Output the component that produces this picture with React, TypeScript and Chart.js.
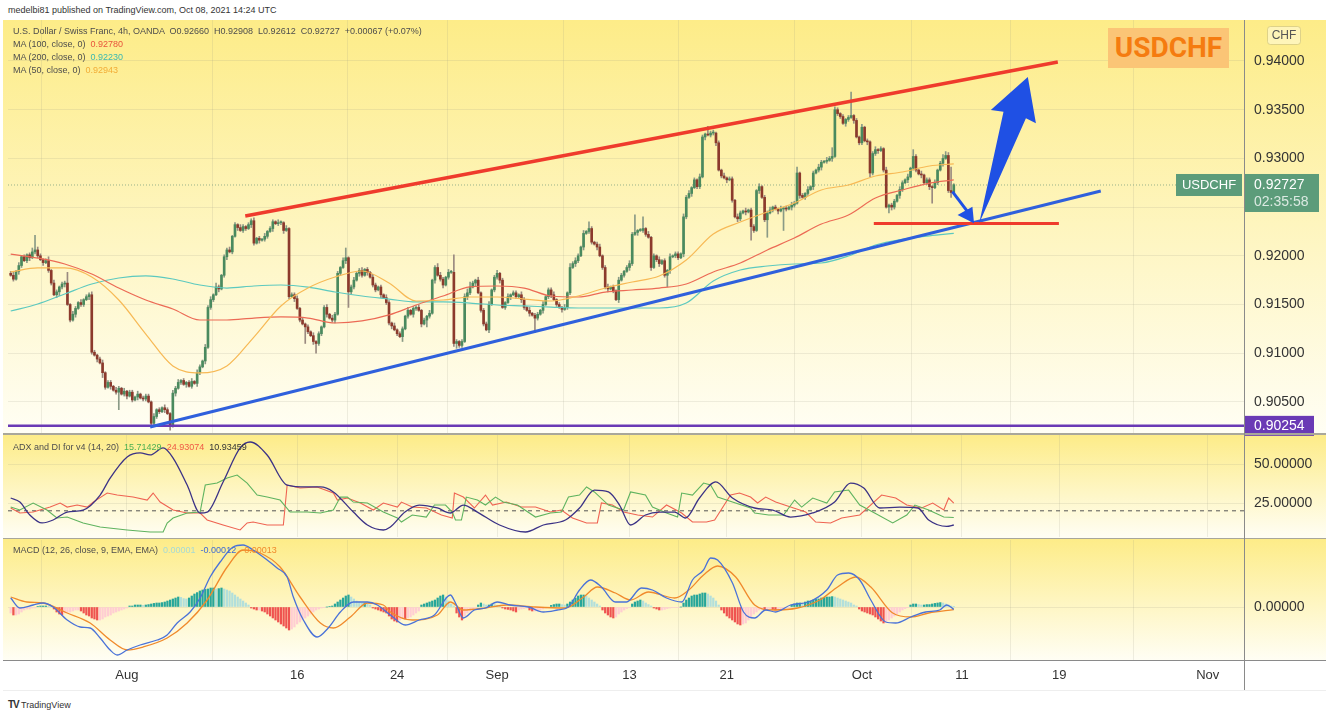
import React, { useEffect, useRef } from 'react';
import { Chart, registerables } from 'chart.js';
Chart.register(...registerables);

// ---------------- DATA ----------------
// x axis: 4h bar index; tick labels placed at bar indices
const X_MIN = -1;
const X_MAX = 456.4;
const TICK_POS = [43, 106, 143, 180, 229, 265, 315, 352, 388, 443];
const TICK_LABELS = ['Aug', '16', '24', 'Sep', '13', '21', 'Oct', '11', '19', 'Nov'];

// price axis
const PRICE_MIN = 0.901807;
const PRICE_MAX = 0.944209;
const PRICE_TICKS = [0.905, 0.91, 0.915, 0.92, 0.925, 0.93, 0.935, 0.94];

// candles: open of first bar, closes (pips above 0.9000), wick lengths (pips, base-36 chars)
const FIRST_OPEN = 0.9182;
const CLOSE_PIPS = [
  180, 176, 184, 190, 199, 195, 201, 198, 204, 206,
  200, 196, 193, 195, 185, 172, 160, 163, 168, 171,
  172, 150, 134, 140, 146, 152, 150, 155, 158, 160,
  101, 98, 94, 90, 80, 65, 70, 66, 62, 60,
  64, 58, 61, 56, 60, 52, 55, 58, 54, 53,
  56, 50, 28, 35, 42, 40, 44, 42, 38, 26,
  59, 64, 70, 72, 68, 70, 66, 71, 69, 80,
  86, 92, 106, 147, 155, 160, 168, 166, 180, 199,
  206, 204, 220, 232, 229, 226, 230, 228, 232, 236,
  213, 218, 216, 217, 220, 225, 228, 235, 233, 234,
  234, 226, 228, 158, 160, 156, 146, 134, 130, 127,
  122, 118, 112, 110, 120, 127, 147, 140, 136, 134,
  140, 182, 188, 195, 198, 163, 168, 175, 182, 185,
  180, 186, 183, 178, 170, 165, 168, 160, 157, 152,
  131, 128, 124, 120, 117, 125, 138, 144, 140, 146,
  147, 144, 130, 134, 138, 141, 175, 188, 180, 176,
  170, 178, 183, 183, 110, 112, 108, 112, 158, 162,
  168, 172, 175, 162, 144, 130, 124, 150, 165, 178,
  182, 175, 147, 152, 158, 160, 162, 158, 160, 155,
  147, 144, 141, 139, 136, 140, 144, 150, 158, 165,
  160, 155, 150, 147, 145, 147, 162, 188, 192, 195,
  200, 209, 223, 225, 228, 214, 212, 209, 200, 188,
  168, 166, 168, 164, 155, 175, 180, 184, 188, 192,
  222, 224, 226, 226, 228, 222, 219, 188, 200, 196,
  192, 195, 180, 185, 199, 200, 202, 198, 202, 240,
  260, 264, 270, 278, 271, 281, 322, 325, 324, 326,
  326, 316, 288, 282, 280, 278, 279, 257, 240, 238,
  244, 246, 245, 247, 230, 226, 267, 271, 260, 237,
  244, 247, 250, 248, 246, 248, 249, 248, 250, 252,
  254, 285, 262, 260, 264, 268, 271, 285, 288, 291,
  296, 297, 298, 300, 302, 350, 346, 343, 336, 340,
  342, 344, 339, 322, 316, 332, 318, 317, 285, 305,
  309, 308, 310, 288, 250, 252, 250, 256, 262, 268,
  275, 278, 281, 290, 302, 288, 284, 283, 275, 278,
  271, 270, 275, 288, 295, 300, 303, 267, 265, 273,
];
const UPPER_WICKS = [
  '231312124f', '3212413212', '2b13213122', '3212312213', '2131221312',
  '2213121321', '3231212313', '2132314212', '2312132122', '3121312213',
  '2131223121', '2131212313', '2213a12312', '3121321213', '2131221312',
  '2312131243', '2132i21234', '5213122312', '3121312213', '2131221312',
  '2312131423', '2131721231', '2312132123', '2i12c13121', '3121312213',
  '2312132182', '3121312213', '2131221312', '2312131213', '2612131213',
  '2132932121', '2o12131212', '3121312213', '2131721312', '21312443o1',
];
const LOWER_WICKS = [
  '1213212312', '2131221342', '3121312213', '2131521312', 'i123121312',
  '2131221315', '2312131213', '2131221312', '3121312213', '2131221312',
  '231213121h', '213a221312', '31213g2213', '2131221312', '2312151213',
  '2131721312', '3121352213', '2131221312', '2312131213', '2131f21312',
  '3121312213', '2131221312', '2312131213', '2131221312', '312c312213',
  '2131221312', '2312131213', '2131e21312', 'i12131m213', '2131221312',
  '3121312213', '2131221342', '2312163213', '2131221312', '3g12131252',
];
const LAST_CLOSE = 0.92727;
const SWING_LOW = 0.90254;

// moving averages sampled at bar indices (pips)
const MA_IDX = [0, 10, 20, 30, 40, 50, 60, 70, 80, 90, 100, 110, 120, 130, 140, 150, 160, 170, 180, 190, 200, 210, 220, 230, 240, 250, 260, 270, 280, 290, 300, 310, 320, 330, 340, 349];
const MA50 = [9183.4, 9187.5, 9187.5, 9178.2, 9154.6, 9119.7, 9086.9, 9079.7, 9086.9, 9116.6, 9148.5, 9166.9, 9178.2, 9184.4, 9172.1, 9153.6, 9154.6, 9157.7, 9157.7, 9155.6, 9153.6, 9158.7, 9166.9, 9173.1, 9179.3, 9195.7, 9222.4, 9234.7, 9245.0, 9254.2, 9267.6, 9272.7, 9281.9, 9286.0, 9292.2, 9294.3];
const MA100 = [9201.8, 9197.7, 9191.6, 9181.3, 9166.9, 9154.6, 9145.4, 9134.1, 9134.1, 9136.1, 9137.2, 9136.1, 9131.0, 9133.1, 9139.3, 9149.5, 9158.7, 9168.0, 9169.0, 9166.9, 9158.7, 9157.7, 9162.8, 9164.9, 9166.9, 9171.0, 9183.4, 9192.6, 9206.0, 9218.3, 9232.6, 9241.9, 9259.3, 9267.6, 9274.7, 9278.0];
const MA200 = [9143.3, 9150.5, 9160.8, 9171.0, 9177.2, 9179.3, 9176.2, 9170.0, 9166.9, 9169.0, 9170.0, 9167.9, 9162.8, 9158.7, 9155.6, 9152.6, 9152.6, 9151.5, 9149.5, 9148.5, 9147.4, 9146.4, 9146.4, 9146.4, 9146.4, 9151.5, 9174.1, 9185.4, 9189.5, 9191.6, 9192.6, 9199.8, 9211.1, 9217.0, 9220.5, 9223.0];

// drawings [barIndex, price]
const UPPER_TREND = [[86.8, 0.92409], [387.5, 0.9399]];
const LOWER_TREND = [[51.6, 0.90242], [403.4, 0.92665]];
const SUPPORT_LINE = [[319.4, 0.92332], [387.9, 0.92332]];
const BIG_ARROW = [[358.4, 0.92334], [367.4, 0.93479], [362.7, 0.93497], [376.4, 0.93836], [379.4, 0.9336], [375.7, 0.93412]];
const SMALL_ARROW_SHAFT = [[348.5, 0.92658], [354.1, 0.92453]];
const SMALL_ARROW_HEAD = [[350.4, 0.92419], [355.9, 0.92504], [356.5, 0.92334]];

// ADX / DI  [barIndex, value]
const ADX_PTS = [[0, 28.2], [3.4, 25.6], [7.1, 17.3], [11.6, 12.2], [15.7, 14.1], [20.9, 19.2], [26.8, 20.5], [33.1, 30.1], [36.8, 41.0], [43.1, 54.5], [47.9, 57.1], [51.6, 55.8], [56.4, 60.3], [60.1, 53.8], [65.3, 36.5], [70.1, 18.6], [72.7, 19.2], [78.6, 38.5], [84.9, 60.3], [88.6, 64.1], [94.9, 55.8], [102.3, 36.5], [109.7, 35.3], [114.6, 35.3], [119.4, 32.1], [126.8, 19.2], [132, 10.9], [137.9, 7.7], [140.5, 9.6], [145.9, 19.2], [151.2, 23.7], [157.9, 21.8], [162.7, 18.6], [167.5, 23.7], [172.7, 19.2], [180.9, 10.9], [190.5, 6.4], [197.1, 10.9], [205.3, 14.1], [210.5, 21.8], [216, 33.3], [221.2, 32.1], [225.3, 23.7], [229.4, 10.9], [234.9, 17.3], [240.1, 19.2], [245.7, 19.2], [249.7, 15.4], [254.9, 28.2], [260.9, 38.5], [267.1, 28.2], [275.3, 21.8], [282, 20.5], [288.6, 16.0], [296.8, 18.6], [304.9, 25.6], [310.8, 37.8], [315.7, 34.6], [321.6, 21.8], [329, 22.4], [335.7, 21.8], [339.7, 14.1], [346.4, 10.0], [349, 10.9]];
const PDI_PTS = [[0, 22.4], [3.4, 20.5], [8.3, 25], [13.4, 20.5], [17.1, 15.4], [20.9, 16.0], [26.8, 12.2], [33.1, 9.6], [43.1, 7.7], [51.6, 6.4], [56.4, 6.4], [57.9, 12.2], [60.1, 15.4], [65.3, 18.6], [70.1, 19.2], [72, 36.5], [76.4, 37.8], [80.1, 41.0], [83.8, 42.9], [87.5, 37.8], [91.2, 30.1], [94.9, 28.8], [99.7, 26.9], [103.4, 19.2], [109.7, 19.2], [114.6, 18.6], [119.4, 20.5], [122, 28.8], [124.6, 28.8], [126.8, 25.6], [132, 25.0], [137.9, 19.2], [143.1, 15.4], [144.6, 12.8], [148.6, 17.3], [153.8, 16.0], [156.8, 23.7], [160.9, 23.7], [163.4, 19.2], [164.6, 14.1], [166.8, 14.1], [168.6, 28.8], [172.7, 26.9], [175.7, 23.7], [179.4, 28.8], [182.3, 25.6], [187.5, 23.7], [194.2, 16.0], [199.7, 18.6], [203.8, 19.2], [206.4, 28.8], [210.5, 30.1], [213.1, 35.3], [216, 32.1], [221.2, 23.7], [226.8, 20.5], [229.4, 32.1], [234.9, 30.1], [237.5, 22.4], [242.7, 18.6], [246.8, 16.0], [248.3, 31.4], [252.3, 30.1], [256.4, 37.8], [259, 36.5], [261.6, 28.8], [267.1, 25.6], [273.8, 21.8], [275.3, 18.6], [280.5, 17.3], [286, 17.3], [290.1, 26.9], [292.7, 22.4], [296.8, 28.2], [302, 25.0], [304.9, 32.1], [310.1, 33.3], [314.2, 23.7], [319.7, 18.6], [326.4, 12.2], [331.6, 17.3], [334.6, 23.7], [339.7, 20.5], [345.3, 16.0], [349, 15.7]];
const MDI_PTS = [[0, 21.8], [3.4, 18.6], [8.3, 19.2], [14.6, 22.4], [18.3, 25.0], [20.9, 22.4], [24.6, 23.7], [28.3, 22.4], [30.5, 25.6], [35.7, 31.4], [39.4, 30.1], [45.3, 28.8], [50.5, 26.9], [52.7, 31.4], [55.3, 25.6], [60.1, 20.5], [65.3, 18.6], [70.1, 18.6], [72.7, 14.1], [78.6, 10.9], [84.9, 7.7], [87.5, 12.2], [89.7, 12.8], [94.9, 10.9], [100.9, 10.9], [102.3, 36.5], [107.1, 34.6], [113.4, 35.3], [119.4, 31.4], [120.9, 26.9], [124.6, 28.2], [129.4, 25.0], [134.2, 20.5], [137.9, 25.0], [143.1, 22.4], [144.6, 25.6], [148.6, 22.4], [153.8, 21.8], [159.4, 17.3], [163.4, 15.4], [164.2, 31.4], [167.5, 28.8], [171.6, 21.8], [175.7, 30.1], [178.3, 23.7], [183.4, 25.6], [189, 22.4], [194.2, 22.4], [199.7, 19.2], [203.8, 20.5], [207.9, 15.4], [213.1, 12.2], [217.1, 12.2], [218.6, 25.0], [222.7, 23.7], [226.8, 19.2], [232, 17.3], [237.5, 16.0], [242.7, 23.7], [248.3, 18.6], [252.3, 12.8], [257.5, 12.8], [260.5, 14.1], [266.4, 30.1], [269.7, 31.4], [273.8, 28.8], [276.4, 25.0], [279.4, 28.8], [283.1, 25.6], [288.6, 22.4], [294.2, 19.2], [297.9, 12.8], [303.4, 12.2], [307.5, 15.4], [314.2, 17.3], [322.3, 30.1], [327.5, 28.2], [331.6, 23.7], [337.1, 21.8], [341.2, 25.0], [345.3, 20.5], [347.1, 28.2], [349, 24.9]];
const ADX_KEY_LEVEL = 20;
const ADX_MIN = 3.21;
const ADX_MAX = 68.59;
const ADX_TICKS = [25, 50];

// MACD (units of 0.00001)
const MACD_PTS = [[0, 45], [3.4, -5], [8.3, 10], [12, 20], [15.7, 0], [20.9, -65], [25.7, -100], [29.4, -105], [33.1, -155], [36.8, -215], [39.4, -240], [43.1, -215], [47.9, -190], [54.2, -165], [57.9, -140], [61.6, -80], [66.4, -25], [70.1, 45], [73.8, 150], [77.5, 225], [82.3, 300], [86, 310], [89.7, 285], [94.9, 235], [98.6, 195], [102.3, 150], [104.6, 50], [108.3, -65], [113.4, -150], [117.5, -105], [122, -25], [126.8, 25], [132, 25], [135.7, 10], [140.5, -40], [146, -90], [151.2, -65], [156.8, -40], [162.7, 60], [164.6, 20], [167.5, -55], [171.6, -15], [175.7, -5], [180.1, 25], [184.9, 10], [191.6, 0], [197.1, -25], [202.3, -15], [206.4, 0], [210.5, 85], [214.6, 135], [218.6, 100], [223.8, 25], [227.9, 25], [233.4, 95], [237.5, 85], [242.7, 45], [248.3, 25], [252.3, 135], [256.4, 185], [259, 245], [261.6, 235], [267.1, 120], [271.2, -25], [275.3, -55], [279.4, -15], [283.1, -25], [288.6, 10], [295.3, 25], [302, 85], [306, 160], [310.1, 170], [314.2, 135], [318.3, 35], [323.8, -75], [327.5, -80], [333.1, -50], [338.6, -25], [343.8, -15], [346.4, 10], [349, -12]];
const SIGNAL_PTS = [[0, 50], [6, 25], [12, 20], [20.9, -30], [29.4, -80], [36.8, -165], [43.1, -215], [49, -200], [57.9, -155], [65.3, -80], [72.7, 35], [80.1, 200], [86, 285], [92.3, 270], [99.7, 200], [107.1, 50], [114.6, -80], [119.4, -105], [125.7, -50], [132, 20], [137.9, 10], [140.5, -25], [148.6, -65], [157.9, -40], [162.7, 25], [167.5, -15], [175.7, -5], [183.4, 10], [194.2, 0], [205.3, -5], [212, 50], [217.1, 100], [223.8, 70], [229.4, 35], [236, 75], [245.7, 45], [250.9, 85], [256.4, 160], [261.6, 205], [268.3, 150], [275.3, 10], [282, -15], [291.2, -5], [299.4, 35], [306, 100], [312.7, 150], [318.3, 100], [326.4, -30], [333.1, -50], [339.7, -30], [349, -13]];
const HIST = [
  -30, -40, -40, -35, -25, -15, -10, -10, -5, -5,
  3, 5, 5, 5, 3, 2, -10, -25, -35, -40,
  -30, -25, -25, -20, -15, -15, -20, -30, -40, -45,
  -55, -60, -65, -65, -60, -50, -45, -40, -30, -25,
  -20, -15, -10, -5, 5, 5, 10, 10, 10, 8,
  10, 12, 15, 18, 20, 20, 22, 25, 30, 35,
  40, 45, 50, 48, 42, 40, 45, 55, 65, 72,
  80, 85, 88, 90, 95, 95, 90, 92, 95, 90,
  85, 80, 70, 60, 50, 40, 30, 20, 10, -5,
  -10, -15, -15, -20, -25, -35, -45, -55, -65, -75,
  -85, -95, -105, -115, -110, -100, -85, -75, -65, -55,
  -45, -35, -25, -15, -10, -5, -2, 0, 2, 5,
  15, 25, 35, 45, 55, 60, 50, 40, 30, 25,
  20, 20, 15, 10, -5, -10, -15, -20, -25, -30,
  -45, -60, -70, -75, -65, -55, -60, -55, -50, -40,
  -30, -20, 10, 15, 20, 25, 30, 35, 45, 55,
  60, 50, 30, 15, 5, -30, -50, -65, -45, -30,
  -20, -10, -5, 10, 20, 15, 10, 10, 15, 12,
  8, 5, -5, -10, -12, -15, -20, -25, -15, -10,
  -8, -5, -15, -20, -20, -18, -15, -10, -5, -2,
  8, 12, 15, 15, 12, 10, 15, 25, 35, 45,
  55, 60, 60, 55, 45, 35, 25, 15, 5, -15,
  -30, -40, -50, -55, -50, -35, -25, -15, -8, -3,
  15, 25, 30, 35, 30, 20, 12, 5, -5, -10,
  -15, -15, -12, -8, -5, -3, -2, -2, 0, 20,
  35, 45, 55, 60, 60, 65, 70, 70, 65, 55,
  45, 30, 10, -15, -30, -45, -55, -65, -75, -85,
  -90, -85, -80, -65, -50, -35, -25, -15, -12, -15,
  -12, -10, -12, -15, -12, -10, -8, -5, -3, 10,
  15, 20, 20, 18, 25, 30, 30, 35, 38, 40,
  45, 48, 50, 50, 52, 50, 45, 40, 35, 30,
  25, 20, 10, 5, -10, -20, -25, -30, -35, -40,
  -50, -60, -70, -80, -75, -65, -55, -45, -35, -25,
  -15, -8, -3, 10, 15, 15, 12, 10, 10, 12,
  12, 15, 18, 20, 22, 20, 15, 10, 5, 1,
];
const MACD_MIN = -0.00265;
const MACD_MAX = 0.00335;

// ---------------- STYLE ----------------
const FONT = "'Liberation Sans', Arial, sans-serif";
const GRID = 'rgba(150,150,130,0.16)';
const AXIS_W = 88;

const UP_W = UPPER_WICKS.join('');
const LO_W = LOWER_WICKS.join('');
const candles = CLOSE_PIPS.map((c, i) => {
  const close = 0.9 + c * 0.0001;
  const open = i === 0 ? FIRST_OPEN : 0.9 + CLOSE_PIPS[i - 1] * 0.0001;
  const high = Math.max(open, close) + parseInt(UP_W[i], 36) * 0.0001;
  const low = Math.min(open, close) - parseInt(LO_W[i], 36) * 0.0001;
  return { i, open, close, high, low };
});

const pts = (arr: number[][], k = 1) => arr.map(([x, y]) => ({ x, y: y * k }));

function xScale(showLabels: boolean): any {
  return {
    type: 'linear',
    min: X_MIN,
    max: X_MAX,
    offset: false,
    grid: { color: GRID, drawTicks: false, lineWidth: 1 },
    border: { display: false },
    afterBuildTicks: (s: any) => {
      s.ticks = TICK_POS.map((v) => ({ value: v }));
    },
    ticks: {
      display: showLabels,
      autoSkip: false,
      maxRotation: 0,
      padding: 8,
      color: '#333',
      font: { family: FONT, size: 13 },
      callback: (v: any) => {
        const k = TICK_POS.indexOf(Number(v));
        return k >= 0 ? TICK_LABELS[k] : '';
      },
    },
    afterFit: (s: any) => {
      s.height = showLabels ? 30 : 0;
      s.paddingLeft = 0;
      s.paddingRight = 0;
      s.paddingTop = 0;
      s.paddingBottom = 0;
    },
  };
}

function yScale(min: number, max: number, ticks: number[]): any {
  return {
    type: 'linear',
    position: 'right',
    min,
    max,
    afterBuildTicks: (s: any) => {
      s.ticks = ticks.map((v) => ({ value: v }));
    },
    grid: { color: GRID, drawTicks: false },
    border: { display: false },
    ticks: {
      padding: 10,
      color: '#333',
      font: { family: FONT, size: 14 },
      callback: (v: any) => Number(v).toFixed(5),
    },
    afterFit: (s: any) => {
      s.width = AXIS_W;
      s.paddingTop = 0;
      s.paddingBottom = 0;
    },
  };
}

const baseOptions = (scales: any, padBottom = 0): any => ({
  animation: false,
  responsive: false,
  maintainAspectRatio: false,
  events: [],
  layout: { padding: { left: 8, right: 0, top: 0, bottom: padBottom } },
  plugins: { legend: { display: false }, tooltip: { enabled: false } },
  scales,
});

const line = (data: any[], color: string, width: number, extra: any = {}) => ({
  type: 'line',
  data,
  borderColor: color,
  borderWidth: width,
  pointRadius: 0,
  fill: false,
  tension: 0,
  ...extra,
});

const drawingsPlugin = {
  id: 'drawings',
  afterDatasetsDraw(chart: any) {
    const { ctx, scales } = chart;
    const px = (p: number[]) => [scales.x.getPixelForValue(p[0]), scales.y.getPixelForValue(p[1])];
    ctx.save();
    ctx.fillStyle = '#1f50e4';
    ctx.beginPath();
    BIG_ARROW.forEach((p, k) => {
      const [x, y] = px(p);
      if (k === 0) ctx.moveTo(x, y);
      else ctx.lineTo(x, y);
    });
    ctx.closePath();
    ctx.fill();
    ctx.strokeStyle = '#1f50e4';
    ctx.lineWidth = 3;
    ctx.beginPath();
    const [a0, a1] = px(SMALL_ARROW_SHAFT[0]);
    const [b0, b1] = px(SMALL_ARROW_SHAFT[1]);
    ctx.moveTo(a0, a1);
    ctx.lineTo(b0, b1);
    ctx.stroke();
    ctx.beginPath();
    SMALL_ARROW_HEAD.forEach((p, k) => {
      const [x, y] = px(p);
      if (k === 0) ctx.moveTo(x, y);
      else ctx.lineTo(x, y);
    });
    ctx.closePath();
    ctx.fill();
    ctx.restore();
  },
  afterDraw(chart: any) {
    const { ctx, chartArea, scales } = chart;
    const right = chartArea.right;
    ctx.save();
    ctx.textBaseline = 'middle';
    // current price tag
    const yc = scales.y.getPixelForValue(LAST_CLOSE);
    ctx.fillStyle = '#5c9c7a';
    ctx.fillRect(right, yc - 11, 75, 38);
    ctx.fillRect(right - 68, yc - 11, 66, 22);
    ctx.fillStyle = '#ffffff';
    ctx.font = `14px ${FONT}`;
    ctx.textAlign = 'left';
    ctx.fillText(LAST_CLOSE.toFixed(5), right + 10, yc);
    ctx.fillStyle = 'rgba(255,255,255,0.78)';
    ctx.fillText('02:35:58', right + 10, yc + 17);
    ctx.fillStyle = '#ffffff';
    ctx.font = `13px ${FONT}`;
    ctx.textAlign = 'center';
    ctx.fillText('USDCHF', right - 35, yc + 0.5);
    // swing low tag
    const yl = scales.y.getPixelForValue(SWING_LOW);
    ctx.fillStyle = '#6a3ab5';
    ctx.fillRect(right, yl - 10, 70, 20);
    ctx.fillStyle = '#ffffff';
    ctx.font = `14px ${FONT}`;
    ctx.textAlign = 'left';
    ctx.fillText(SWING_LOW.toFixed(5), right + 10, yl + 0.5);
    // currency box
    ctx.fillStyle = 'rgba(255,255,240,0.45)';
    ctx.strokeStyle = 'rgba(200,190,120,0.6)';
    ctx.lineWidth = 1;
    ctx.beginPath();
    ctx.roundRect(right + 23.5, 6.5, 33, 18, 3);
    ctx.fill();
    ctx.stroke();
    ctx.fillStyle = '#555';
    ctx.font = `12px ${FONT}`;
    ctx.textAlign = 'center';
    ctx.fillText('CHF', right + 40, 16);
    ctx.restore();
  },
};

function mainConfig(): any {
  const bodyColors = candles.map((c) => (c.close >= c.open ? '#4a8a5e' : '#8c3a2c'));
  const wickColors = candles.map((c) => (c.close >= c.open ? '#8a9a86' : '#9a8a80'));
  const ma = (vals: number[]) => MA_IDX.map((x, k) => ({ x, y: vals[k] / 10000 }));
  return {
    type: 'bar',
    data: {
      datasets: [
        line(pts(UPPER_TREND), '#ef3b2c', 3.5),
        line(pts(SUPPORT_LINE), '#ef3b2c', 3),
        line(pts(LOWER_TREND), '#2f60dc', 3),
        line([{ x: X_MIN, y: SWING_LOW }, { x: X_MAX, y: SWING_LOW }], '#6a3ab5', 2.5),
        line(ma(MA50), '#f7b955', 1.2, { cubicInterpolationMode: 'monotone' }),
        line(ma(MA100), '#ec6a55', 1.2, { cubicInterpolationMode: 'monotone' }),
        line(ma(MA200), '#5cc9bf', 1.2, { cubicInterpolationMode: 'monotone' }),
        {
          type: 'bar',
          data: candles.map((c) => ({ x: c.i, y: [Math.min(c.open, c.close), Math.max(c.open, c.close)] })),
          backgroundColor: bodyColors,
          barThickness: 2,
          minBarLength: 1,
          grouped: false,
        },
        {
          type: 'bar',
          data: candles.map((c) => ({ x: c.i, y: [c.low, c.high] })),
          backgroundColor: wickColors,
          barThickness: 1,
          grouped: false,
        },
        line([{ x: X_MIN, y: LAST_CLOSE }, { x: X_MAX, y: LAST_CLOSE }], 'rgba(110,150,120,0.7)', 1, { borderDash: [1, 2] }),
      ],
    },
    options: baseOptions({ x: xScale(false), y: yScale(PRICE_MIN, PRICE_MAX, PRICE_TICKS) }, 5),
    plugins: [drawingsPlugin],
  };
}

function adxConfig(): any {
  return {
    type: 'line',
    data: {
      datasets: [
        line(pts(ADX_PTS), '#3b3286', 1.3, { cubicInterpolationMode: 'monotone' }),
        line(pts(PDI_PTS), '#5fb35f', 1.1),
        line(pts(MDI_PTS), '#ef6352', 1.1),
        line([{ x: X_MIN, y: ADX_KEY_LEVEL }, { x: X_MAX, y: ADX_KEY_LEVEL }], '#555', 1, { borderDash: [4, 4] }),
      ],
    },
    options: baseOptions({ x: xScale(false), y: yScale(ADX_MIN, ADX_MAX, ADX_TICKS) }),
  };
}

function macdConfig(): any {
  const colors = HIST.map((v, i) => {
    const p = i > 0 ? HIST[i - 1] : v;
    if (v >= 0) return v >= p ? '#26a69a' : '#b2dfdb';
    return v < p ? '#ef5350' : '#ffcdd2';
  });
  return {
    type: 'bar',
    data: {
      datasets: [
        line(pts(MACD_PTS, 0.00001), '#4a72d8', 1.3, { cubicInterpolationMode: 'monotone' }),
        line(pts(SIGNAL_PTS, 0.00001), '#f08a2c', 1.3, { cubicInterpolationMode: 'monotone' }),
        {
          type: 'bar',
          data: HIST.map((v, i) => ({ x: i, y: v * 0.00001 })),
          backgroundColor: colors,
          barThickness: 1.6,
          grouped: false,
        },
      ],
    },
    options: baseOptions({ x: xScale(true), y: yScale(MACD_MIN, MACD_MAX, [0]) }),
  };
}

const legendStyle: any = {
  position: 'absolute',
  left: 13,
  fontSize: 9,
  lineHeight: '13px',
  color: '#4d4d4d',
  whiteSpace: 'pre',
  fontFamily: FONT,
  zIndex: 3,
};

export default function App() {
  const mainRef = useRef<HTMLCanvasElement>(null);
  const adxRef = useRef<HTMLCanvasElement>(null);
  const macdRef = useRef<HTMLCanvasElement>(null);

  useEffect(() => {
    const charts: Chart[] = [];
    if (mainRef.current) charts.push(new Chart(mainRef.current, mainConfig()));
    if (adxRef.current) charts.push(new Chart(adxRef.current, adxConfig()));
    if (macdRef.current) charts.push(new Chart(macdRef.current, macdConfig()));
    return () => charts.forEach((c) => c.destroy());
  }, []);

  const canvasStyle = (top: number, h: number): any => ({ position: 'absolute', left: 0, top, width: 1332, height: h, zIndex: 1 });
  const grad = 'linear-gradient(180deg, #fdec88 0%, #fef6c4 55%, #fffef4 100%)';

  return (
    <div style={{ position: 'absolute', left: 0, top: 0, width: 1332, height: 718, background: '#fff', overflow: 'hidden', fontFamily: FONT }}>
      <div style={{ position: 'absolute', left: 8, top: 5, fontSize: 9, color: '#333', whiteSpace: 'pre' }}>
        medelbi81 published on TradingView.com, Oct 08, 2021 14:24 UTC
      </div>
      {/* panel backgrounds */}
      <div style={{ position: 'absolute', left: 3, top: 20, width: 1323, height: 413, background: grad }} />
      <div style={{ position: 'absolute', left: 3, top: 435, width: 1323, height: 103, background: grad }} />
      <div style={{ position: 'absolute', left: 3, top: 539, width: 1323, height: 121, background: grad }} />
      <div style={{ position: 'absolute', left: 3, top: 660, width: 1323, height: 30, background: '#fff', borderBottom: '1px solid #eee' }} />

      <canvas ref={mainRef} width={1332} height={418} style={canvasStyle(20, 418)} />
      <canvas ref={adxRef} width={1332} height={102} style={canvasStyle(435, 102)} />
      <canvas ref={macdRef} width={1332} height={150} style={canvasStyle(540, 150)} />

      {/* separators */}
      <div style={{ position: 'absolute', left: 3, top: 433, width: 1323, height: 2, background: '#a9a79a', zIndex: 2 }} />
      <div style={{ position: 'absolute', left: 3, top: 538, width: 1323, height: 1, background: '#a9a79a', zIndex: 2 }} />
      <div style={{ position: 'absolute', left: 3, top: 660, width: 1323, height: 1, background: '#8a8a8a', zIndex: 2 }} />
      <div style={{ position: 'absolute', left: 1244, top: 20, width: 1, height: 670, background: '#8a8a8a', zIndex: 2 }} />

      {/* watermark */}
      <div style={{ position: 'absolute', left: 1108, top: 28, width: 121, height: 40, background: '#fbc576', color: '#f57c10', fontFamily: 'Roboto, ' + FONT, fontWeight: 700, fontSize: 28, lineHeight: '40px', textAlign: 'center', zIndex: 3 }}>
        USDCHF
      </div>

      {/* legends */}
      <div style={{ ...legendStyle, top: 25 }}>
        <div>U.S. Dollar / Swiss Franc, 4h, OANDA  O0.92660  H0.92908  L0.92612  C0.92727  +0.00067 (+0.07%)</div>
        <div>MA (100, close, 0)  <span style={{ color: '#e8553c' }}>0.92780</span></div>
        <div>MA (200, close, 0)  <span style={{ color: '#3bb9b1' }}>0.92230</span></div>
        <div>MA (50, close, 0)  <span style={{ color: '#f2ad37' }}>0.92943</span></div>
      </div>
      <div style={{ ...legendStyle, top: 441 }}>
        ADX and DI for v4 (14, 20)  <span style={{ color: '#4caf50' }}>15.71429</span>  <span style={{ color: '#ef5a45' }}>24.93074</span>  <span style={{ color: '#333' }}>10.93459</span>
      </div>
      <div style={{ ...legendStyle, top: 544 }}>
        MACD (12, 26, close, 9, EMA, EMA)  <span style={{ color: '#a6dad4' }}>0.00001</span>  <span style={{ color: '#3d6bd4' }}>-0.00012</span>  <span style={{ color: '#f08a2c' }}>-0.00013</span>
      </div>

      {/* footer */}
      <div style={{ position: 'absolute', left: 8, top: 699, fontSize: 9, color: '#333', whiteSpace: 'pre' }}>
        <b style={{ fontSize: 10, letterSpacing: -1 }}>TV</b> TradingView
      </div>
    </div>
  );
}
